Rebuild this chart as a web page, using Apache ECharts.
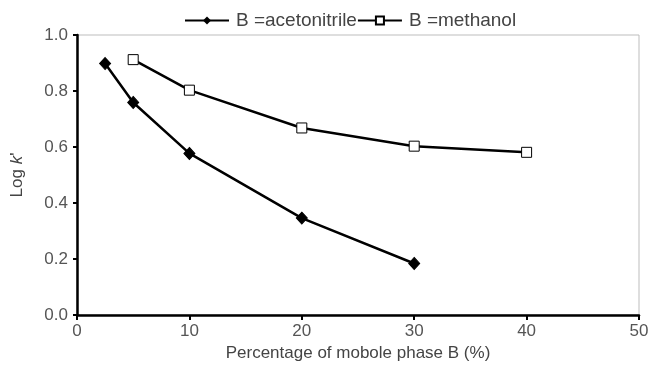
<!DOCTYPE html>
<html><head><meta charset="utf-8">
<script src="https://cdn.jsdelivr.net/npm/echarts@6/dist/echarts.min.js"></script>
<style>html,body{margin:0;padding:0;background:#fff}#c{width:653px;height:367px}</style>
</head><body><div id="c"></div>
<script>
var acnX = [2.5, 5, 10, 20, 30];
var acnY = [0.898, 0.759, 0.577, 0.346, 0.184];
var meX = [5, 10, 20, 30, 40];
var meY = [0.912, 0.803, 0.668, 0.603, 0.581];
var xTicks = [0, 10, 20, 30, 40, 50];
var yTicks = [0.0, 0.2, 0.4, 0.6, 0.8, 1.0];

function pairs(xs, ys){ return xs.map(function(x,i){return [x, ys[i]];}); }
var font = 'Liberation Sans, Arial, sans-serif';
var chart = echarts.init(document.getElementById('c'));
chart.setOption({
  animation: false,
  grid: {left: 77, right: 14, top: 35, bottom: 48, show: true, borderColor: '#bdbdbd', borderWidth: 1},
  legend: {
    top: 11, left: 184, itemGap: 0, itemWidth: 44, itemHeight: 10, padding: 0,
    textStyle: {fontFamily: font, fontSize: 19, color: '#444', padding: [0, 0, 0, 2]},
    data: ['B =acetonitrile', 'B =methanol']
  },
  xAxis: {
    type: 'value', min: xTicks[0], max: xTicks[xTicks.length-1], interval: 10,
    name: 'Percentage of mobole phase B (%)', nameLocation: 'middle', nameGap: 30,
    nameTextStyle: {fontFamily: font, fontSize: 17, color: '#444'},
    axisLine: {show: true, lineStyle: {color: '#000', width: 2.5}},
    axisTick: {show: true, length: 5, lineStyle: {color: '#000', width: 2}},
    axisLabel: {fontFamily: font, fontSize: 17, color: '#555', margin: 8},
    splitLine: {show: false}
  },
  yAxis: {
    type: 'value', min: yTicks[0], max: yTicks[yTicks.length-1], interval: 0.2,
    name: "{a|Log }{b|k}{a|'}", nameLocation: 'middle', nameGap: 51, nameRotate: 90,
    nameTextStyle: {rich: {a: {fontFamily: font, fontSize: 17, color: '#444'}, b: {fontFamily: font, fontSize: 17, color: '#444', fontStyle: 'italic'}}},
    axisLine: {show: true, lineStyle: {color: '#000', width: 2.5}},
    axisTick: {show: true, length: 4, lineStyle: {color: '#000', width: 2}},
    axisLabel: {fontFamily: font, fontSize: 17, color: '#555', margin: 9, formatter: function(v){return v.toFixed(1);}},
    splitLine: {show: false}
  },
  series: [
    {name: 'B =acetonitrile', type: 'line', data: pairs(acnX, acnY), symbol: 'diamond', symbolSize: [11, 12],
     lineStyle: {color: '#000', width: 2.5}, itemStyle: {color: '#000', borderColor: '#000'}},
    {name: 'B =methanol', type: 'line', data: pairs(meX, meY), symbol: 'rect', symbolSize: 10,
     lineStyle: {color: '#000', width: 2.5}, itemStyle: {color: '#fff', borderColor: '#000', borderWidth: 1}}
  ]
});
</script></body></html>
